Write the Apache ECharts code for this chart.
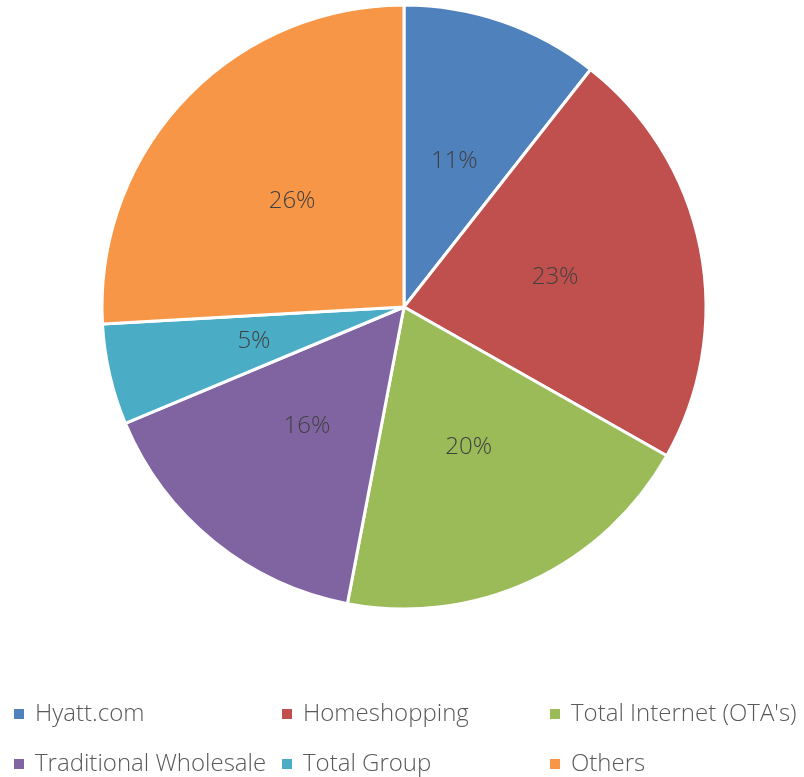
<!DOCTYPE html>
<html>
<head>
<meta charset="utf-8">
<style>
  html, body { margin: 0; padding: 0; background: #fff; }
  #chart { width: 804px; height: 777px; }
</style>
<script src="https://cdn.jsdelivr.net/npm/echarts@6/dist/echarts.min.js"></script>
</head>
<body>
<div id="chart"></div>
<script>
const channels = ['Hyatt.com', 'Homeshopping', "Total Internet (OTA's)", 'Traditional Wholesale', 'Total Group', 'Others']
const shares = [10.6, 22.6, 19.8, 15.7, 5.4, 25.9]
const colors = ['#4f81bd', '#c0504d', '#9bbb59', '#8064a2', '#4bacc6', '#f79646']

const chart = echarts.init(document.getElementById('chart'))

// legend laid out in two rows of three, fixed column width
const legendRow = (names, top) => ({
  data: names,
  left: 12,
  top: top,
  width: 840,
  padding: 0,
  itemWidth: 12,
  itemHeight: 12,
  itemGap: 10,
  icon: 'rect',
  textStyle: {
    fontFamily: 'Open Sans',
    fontWeight: 300,
    fontSize: 24,
    color: '#595959',
    width: 235,
    lineHeight: 32,
    padding: [0, 0, 0, 5]
  }
})

const option = {
  backgroundColor: '#fff',
  color: colors,
  animation: false,
  legend: [
    legendRow(channels.slice(0, 3), 698),
    legendRow(channels.slice(3), 748)
  ],
  series: [
    {
      type: 'pie',
      center: [404, 307],
      radius: 302,
      startAngle: 90,
      clockwise: true,
      data: channels.map((name, i) => ({ name: name, value: shares[i] })),
      itemStyle: { borderColor: '#fff', borderWidth: 3 },
      label: {
        position: 'inside',
        formatter: p => Math.round(p.percent) + '%',
        fontFamily: 'Open Sans',
        fontWeight: 300,
        fontSize: 24,
        color: '#404040'
      },
      labelLine: { show: false }
    }
  ]
}

chart.setOption(option)
</script>
</body>
</html>
